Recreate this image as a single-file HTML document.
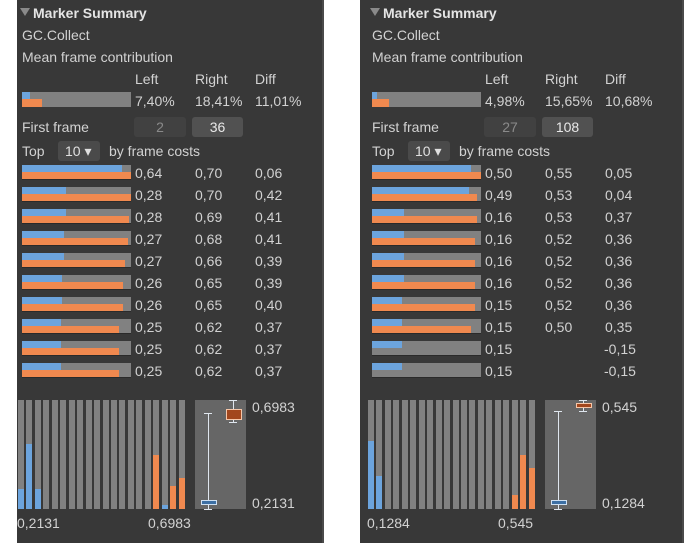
<!DOCTYPE html>
<html><head><meta charset="utf-8">
<style>
body{margin:0;width:700px;height:543px;background:#fff;position:relative;overflow:hidden;font-family:"Liberation Sans",sans-serif;font-size:14px;color:#d2d2d2}
.panel{position:absolute;top:0;height:543px;background:#383838;border-right:2px solid #4a4a4a}
.t{position:absolute;white-space:nowrap;line-height:16px}
.box{position:absolute;border-radius:3px}
</style></head><body>
<div class="panel" style="left:17px;width:305px"></div>
<div class="panel" style="left:360px;width:322px"></div>
<div id="root"></div>
<script>
// Left comparison data
const leftTopLeft=[0.64,0.28,0.28,0.27,0.27,0.26,0.26,0.25,0.25,0.25];
const leftTopRight=[0.70,0.70,0.69,0.68,0.66,0.65,0.65,0.62,0.62,0.62];
const leftTopDiff=["0,06","0,42","0,41","0,41","0,39","0,39","0,40","0,37","0,37","0,37"];
const leftMean=[7.40,18.41,11.01];
const leftFrames=["2","36"];
const leftHistBlue=[18,60,18,0,0,0,0,0,0,0,0,0,0,0,0,0,0,4,0,0];
const leftHistOrange=[0,0,0,0,0,0,0,0,0,0,0,0,0,0,0,0,50,0,21,28];
const leftRange=[0.2131,0.6983];
const leftRangeLabels=["0,2131","0,6983"];
const leftBoxBlue=[0.2131,0.235,0.24,0.25,0.64];
const leftBoxOrange=[0.60,0.615,0.635,0.655,0.6983];
// Right comparison data
const rightTopLeft=[0.50,0.49,0.16,0.16,0.16,0.16,0.15,0.15,0.15,0.15];
const rightTopRight=[0.55,0.53,0.53,0.52,0.52,0.52,0.52,0.50,null,null];
const rightTopDiff=["0,05","0,04","0,37","0,36","0,36","0,36","0,36","0,35","-0,15","-0,15"];
const rightMean=[4.98,15.65,10.68];
const rightFrames=["27","108"];
const rightHistBlue=[62,30,0,0,0,0,0,0,0,0,0,0,0,0,0,0,0,0,0,0];
const rightHistOrange=[0,0,0,0,0,0,0,0,0,0,0,0,0,0,0,0,0,13,50,38];
const rightRange=[0.1284,0.545];
const rightRangeLabels=["0,1284","0,545"];
const rightBoxBlue=[0.1284,0.15,0.155,0.16,0.50];
const rightBoxOrange=[0.50,0.52,0.525,0.53,0.545];

const BLUE="#6ca4dd",ORANGE="#f0894f",GRAY="#818181";
const root=document.getElementById('root');
function el(tag,css,txt){const e=document.createElement(tag);e.style.cssText=css;if(txt!=null)e.textContent=txt;root.appendChild(e);return e;}
function fmt(v,d){return v.toFixed(d).replace('.',',');}

function build(ox,topL,topR,topD,mean,frames,hb,ho,range,rl,bb,bo,p){
  let e;
  e=el('div','position:absolute;left:'+(ox-2)+'px;top:8px;width:0;height:0;border-left:5px solid transparent;border-right:5px solid transparent;border-top:8px solid #8a8a8a');
  
  e=el('div','left:'+(ox+11)+'px;top:5px;font-weight:bold;color:#e4e4e4','Marker Summary');e.className='t';
  
  e=el('div','left:'+ox+'px;top:27px','GC.Collect');e.className='t';
  
  e=el('div','left:'+ox+'px;top:49px','Mean frame contribution');e.className='t';
  
  const cols=[ox+113,ox+173,ox+233];
  ['Left','Right','Diff'].forEach((h,i)=>{e=el('div','left:'+cols[i]+'px;top:71px',h);e.className='t';
    });
  const BW=109;
  e=el('div','position:absolute;left:'+ox+'px;top:92px;width:'+BW+'px;height:15px;background:'+GRAY);
  
  e=el('div','position:absolute;left:'+ox+'px;top:92px;width:'+(mean[0]/100*BW)+'px;height:7px;background:'+BLUE);
  
  e=el('div','position:absolute;left:'+ox+'px;top:99px;width:'+(mean[1]/100*BW)+'px;height:8px;background:'+ORANGE);
  
  mean.forEach((v,i)=>{e=el('div','left:'+cols[i]+'px;top:93px',fmt(v,2)+'%');e.className='t';
    });
  e=el('div','left:'+ox+'px;top:119px','First frame');e.className='t';
  
  e=el('div','left:'+(ox+112)+'px;top:117px;width:52px;height:20px;background:#414141;color:#8a8a8a;text-align:center;line-height:20px',frames[0]);e.className='box';
  
  e=el('div','left:'+(ox+170)+'px;top:117px;width:51px;height:20px;background:#515151;color:#e8e8e8;text-align:center;line-height:20px',frames[1]);e.className='box';
  
  e=el('div','left:'+ox+'px;top:143px','Top');e.className='t';
  
  e=el('div','left:'+(ox+36)+'px;top:141px;width:42px;height:20px;background:#4a4a4a;line-height:20px;padding-left:7px;box-sizing:border-box;color:#e0e0e0','10 \u25BE');e.className='box';
  
  e=el('div','left:'+(ox+87)+'px;top:143px','by frame costs');e.className='t';
  
  const all=topL.concat(topR.filter(v=>v!=null));const mx=Math.max(...all);
  topL.forEach((v,i)=>{
    const y=165+i*22;
    e=el('div','position:absolute;left:'+ox+'px;top:'+y+'px;width:'+BW+'px;height:14px;background:'+GRAY+';border-bottom:1px solid #2a2a2a');
    
    e=el('div','position:absolute;left:'+ox+'px;top:'+y+'px;width:'+(v/mx*BW)+'px;height:7px;background:'+BLUE);
    
    if(topR[i]!=null){e=el('div','position:absolute;left:'+ox+'px;top:'+(y+7)+'px;width:'+(topR[i]/mx*BW)+'px;height:7px;background:'+ORANGE);
      }
    e=el('div','left:'+cols[0]+'px;top:'+y+'px',fmt(v,2));e.className='t';
    
    if(topR[i]!=null){e=el('div','left:'+cols[1]+'px;top:'+y+'px',fmt(topR[i],2));e.className='t';
      }
    e=el('div','left:'+(cols[2]+(topD[i][0]=='-'?-1:0))+'px;top:'+y+'px',topD[i]);e.className='t';
    
  });
  // histogram
  const hx=ox-4,HT=400,HB=509,HH=HB-HT,step=8.45;
  const hy=v=>v/100*HH;
  hb.forEach((v,i)=>{
    const x=hx+i*step;
    e=el('div','position:absolute;left:'+x+'px;top:'+HT+'px;width:6px;height:'+HH+'px;background:'+GRAY);
    
    if(ho[i]>0){e=el('div','position:absolute;left:'+x+'px;top:'+(HB-hy(ho[i]))+'px;width:6px;height:'+hy(ho[i])+'px;background:'+ORANGE);
      }
    if(v>0){e=el('div','position:absolute;left:'+x+'px;top:'+(HB-hy(v))+'px;width:6px;height:'+hy(v)+'px;background:'+BLUE);
      }
  });
  e=el('div','left:'+(hx-1)+'px;top:515px',rl[0]);e.className='t';
  
  e=el('div','left:'+(hx+130)+'px;top:515px',rl[1]);e.className='t';
  
  // box plot
  const bx=ox+173;
  e=el('div','position:absolute;left:'+bx+'px;top:'+HT+'px;width:51px;height:'+HH+'px;background:#666');
  
  const sy=v=>HB-(v-range[0])/(range[1]-range[0])*HH;
  function boxp(d,cx,col,dark,nm){
    e=el('div','position:absolute;left:'+(cx-0.5)+'px;top:'+sy(d[4])+'px;width:1px;height:'+(sy(d[0])-sy(d[4]))+'px;background:#dfe6ee');
    
    [d[0],d[4]].forEach(v=>{e=el('div','position:absolute;left:'+(cx-4)+'px;top:'+(sy(v)-0.5)+'px;width:8px;height:1px;background:#dfe6ee');
      });
    const t=sy(d[3]),b=sy(d[1]);const h=Math.max(b-t,3);
    e=el('div','position:absolute;left:'+(cx-7)+'px;top:'+(t-1)+'px;width:14px;height:'+h+'px;background:'+dark+';border:1px solid '+col);
    
  }
  boxp(bb,bx+13,'#cfe0f2','#3c6fa4',p+'-boxplot-left');
  boxp(bo,bx+38,'#f6c6a8','#a2461c',p+'-boxplot-right');
  e=el('div','left:'+(bx+57)+'px;top:399px',rl[1]);e.className='t';
  
  e=el('div','left:'+(bx+57)+'px;top:495px',rl[0]);e.className='t';
  
}
build(22,leftTopLeft,leftTopRight,leftTopDiff,leftMean,leftFrames,leftHistBlue,leftHistOrange,leftRange,leftRangeLabels,leftBoxBlue,leftBoxOrange,'left');
build(372,rightTopLeft,rightTopRight,rightTopDiff,rightMean,rightFrames,rightHistBlue,rightHistOrange,rightRange,rightRangeLabels,rightBoxBlue,rightBoxOrange,'right');
</script>
</body></html>
